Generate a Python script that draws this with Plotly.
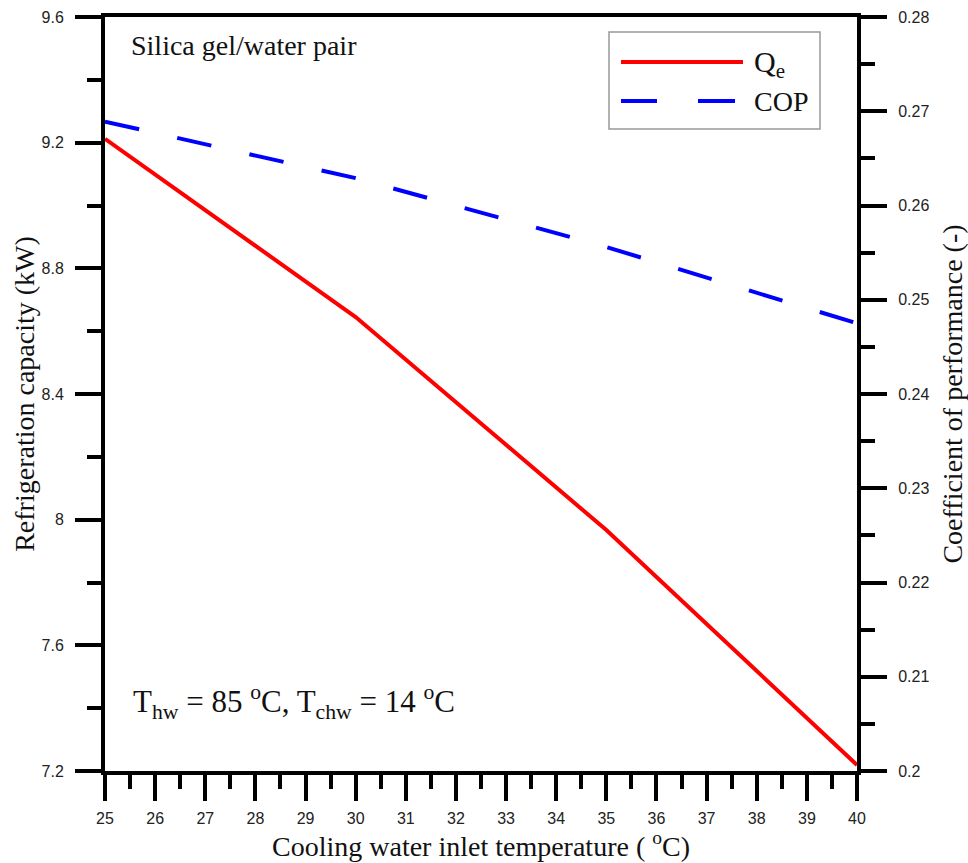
import plotly.graph_objects as go

# ---- data ----
temps = [25, 30, 35, 40]
qe_kw = [9.212, 8.645, 7.967, 7.219]
cop = [0.2689, 0.2629, 0.2556, 0.2475]

x_ticks = list(range(25, 41))
y1_ticks = [7.2, 7.6, 8.0, 8.4, 8.8, 9.2, 9.6]
y1_labels = ["7.2", "7.6", "8", "8.4", "8.8", "9.2", "9.6"]
y2_ticks = [0.20, 0.21, 0.22, 0.23, 0.24, 0.25, 0.26, 0.27, 0.28]
y2_labels = ["0.2", "0.21", "0.22", "0.23", "0.24", "0.25", "0.26", "0.27", "0.28"]

W, H = 968, 863
L, R, T, B = 105, 111, 17, 92
PW, PH = W - L - R, H - T - B


def px(x):
    return (x - L) / PW


def py(y):
    return (H - B - y) / PH


SERIF = "Liberation Serif, Times New Roman, serif"
SANS = "Liberation Sans, Arial, sans-serif"

fig = go.Figure()
fig.add_trace(go.Scatter(x=temps, y=qe_kw, mode="lines", name="Qe",
                         line=dict(color="#ff0000", width=4), showlegend=False))
fig.add_trace(go.Scatter(x=temps, y=cop, mode="lines", name="COP", yaxis="y2",
                         line=dict(color="#0000ff", width=4, dash="35px,39px"),
                         showlegend=False))

axis_common = dict(showline=True, linecolor="black", linewidth=4, ticks="outside",
                   ticklen=26, tickwidth=4, tickcolor="black", showgrid=False,
                   zeroline=False, automargin=False,
                   tickfont=dict(family=SANS, size=16, color="#222"))

fig.update_layout(
    width=W, height=H,
    margin=dict(l=L, r=R, t=T, b=B),
    paper_bgcolor="white", plot_bgcolor="white",
    xaxis=dict(range=[25, 40], tickvals=x_ticks, mirror=True,
               minor=dict(ticks="outside", dtick=0.5, ticklen=14, tickwidth=4, tickcolor="black"),
               ticklabelstandoff=4,
               title=dict(text="Cooling water inlet temperature ( <sup>o</sup>C)",
                          font=dict(family=SERIF, size=28, color="#111"), standoff=5),
               **axis_common),
    yaxis=dict(range=[7.2, 9.6], tickvals=y1_ticks, ticktext=y1_labels,
               minor=dict(ticks="outside", dtick=0.2, tick0=7.2, ticklen=14, tickwidth=4, tickcolor="black"),
               ticklabelstandoff=8,
               title=dict(text="Refrigeration capacity (kW)",
                          font=dict(family=SERIF, size=28, color="#111"), standoff=0),
               **axis_common),
    yaxis2=dict(range=[0.20, 0.28], tickvals=y2_ticks, ticktext=y2_labels,
                overlaying="y", side="right",
                minor=dict(ticks="outside", dtick=0.005, tick0=0.2, ticklen=14, tickwidth=4, tickcolor="black"),
                ticklabelstandoff=8,
                title=dict(text="Coefficient of performance (-)",
                           font=dict(family=SERIF, size=28, color="#111"), standoff=15),
                **axis_common),
)

# in-plot notes
fig.add_annotation(text="Silica gel/water pair", xref="paper", yref="paper",
                   x=px(129), y=py(46), xanchor="left", yanchor="middle", showarrow=False,
                   font=dict(family=SERIF, size=28, color="#111"))
fig.add_annotation(text="T<sub>hw</sub> = 85 <sup>o</sup>C, T<sub>chw</sub> = 14 <sup>o</sup>C",
                   xref="paper", yref="paper", x=px(131), y=py(702), xanchor="left",
                   yanchor="middle", showarrow=False,
                   font=dict(family=SERIF, size=31, color="#111"))

# legend box (drawn)
fig.add_shape(type="rect", xref="paper", yref="paper", x0=px(609), x1=px(820),
              y0=py(129), y1=py(32), line=dict(color="#999", width=1.5), fillcolor="white",
              layer="above")
fig.add_shape(type="line", xref="paper", yref="paper", x0=px(621), x1=px(743),
              y0=py(62), y1=py(62), line=dict(color="#ff0000", width=4), layer="above")
fig.add_shape(type="line", xref="paper", yref="paper", x0=px(621), x1=px(657),
              y0=py(101), y1=py(101), line=dict(color="#0000ff", width=4), layer="above")
fig.add_shape(type="line", xref="paper", yref="paper", x0=px(698), x1=px(735),
              y0=py(101), y1=py(101), line=dict(color="#0000ff", width=4), layer="above")
fig.add_annotation(text="Q<sub>e</sub>", xref="paper", yref="paper", x=px(752), y=py(64),
                   xanchor="left", yanchor="middle", showarrow=False,
                   font=dict(family=SERIF, size=30, color="#111"))
fig.add_annotation(text="COP", xref="paper", yref="paper", x=px(752), y=py(101),
                   xanchor="left", yanchor="middle", showarrow=False,
                   font=dict(family=SERIF, size=28, color="#111"))

fig.write_html("out.html")
